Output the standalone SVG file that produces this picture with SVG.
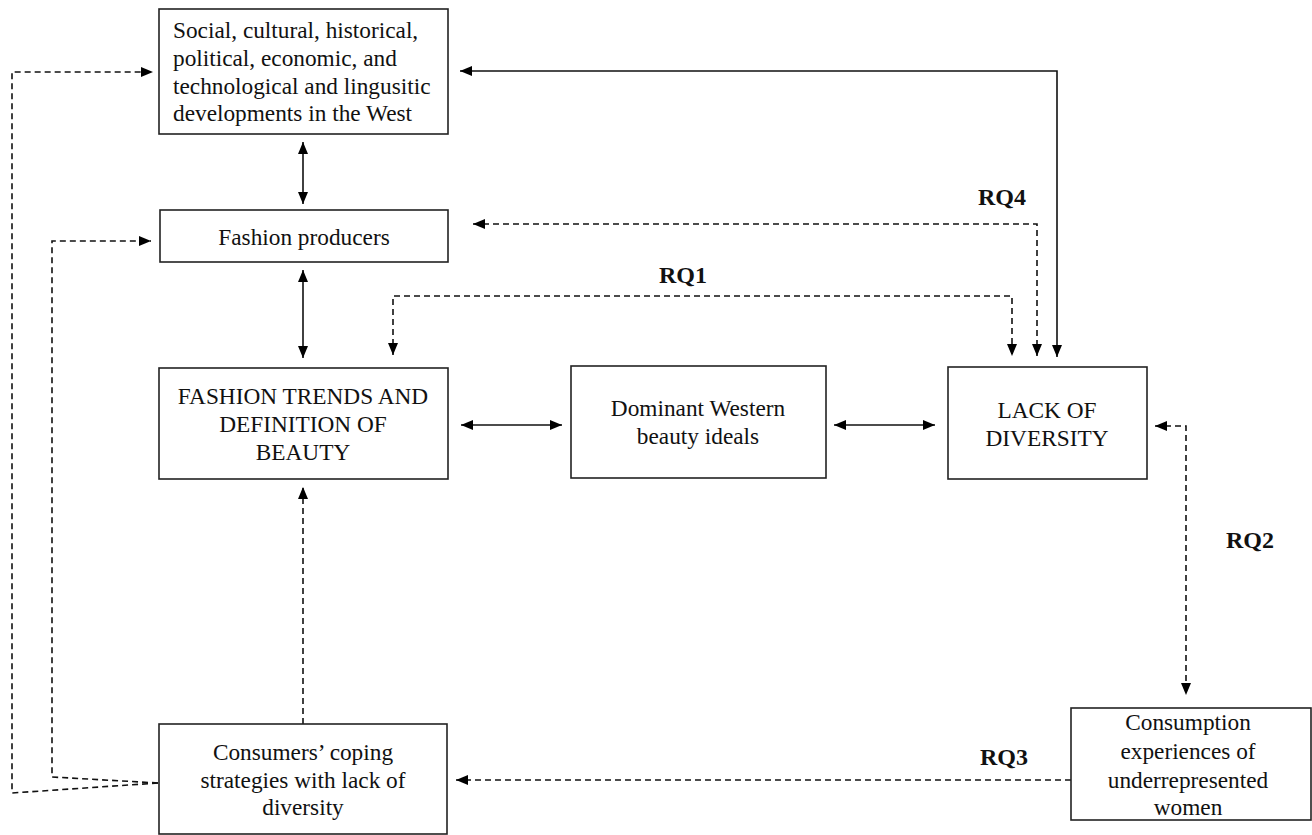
<svg xmlns="http://www.w3.org/2000/svg" width="1312" height="835" viewBox="0 0 1312 835">
<defs>
<marker id="ah" viewBox="0 0 12 10" refX="12" refY="5" markerWidth="12" markerHeight="10" markerUnits="userSpaceOnUse" orient="auto-start-reverse">
<path d="M0,0 L12,5 L0,10 Z" fill="#000"/>
</marker>
<style>
.box{fill:#fff;stroke:#222;stroke-width:1.6}
.t{font-family:"Liberation Serif","Times New Roman",serif;font-size:23.3px;fill:#111}
.c{text-anchor:middle}
.rq{font-family:"Liberation Serif","Times New Roman",serif;font-size:24px;font-weight:bold;fill:#111}
.ln{fill:none;stroke:#111;stroke-width:1.6}
.d{stroke-dasharray:6,4}
</style>
</defs>
<rect width="1312" height="835" fill="#fff"/>
<g id="connectors">
<line class="ln" x1="303" y1="142" x2="303" y2="204" marker-start="url(#ah)" marker-end="url(#ah)"/>
<line class="ln" x1="303" y1="270" x2="303" y2="358" marker-start="url(#ah)" marker-end="url(#ah)"/>
<line class="ln" x1="461" y1="425" x2="562" y2="425" marker-start="url(#ah)" marker-end="url(#ah)"/>
<line class="ln" x1="834" y1="425" x2="935" y2="425" marker-start="url(#ah)" marker-end="url(#ah)"/>
<polyline class="ln" points="460,71 1057,71 1057,357" marker-start="url(#ah)" marker-end="url(#ah)"/>
<polyline class="ln d" points="473,224 1037,224 1037,356" marker-start="url(#ah)" marker-end="url(#ah)"/>
<polyline class="ln d" points="393,355 393,296 1012,296 1012,356" marker-start="url(#ah)" marker-end="url(#ah)"/>
<polyline class="ln d" points="1155,426 1186,426 1186,695" marker-start="url(#ah)" marker-end="url(#ah)"/>
<line class="ln d" x1="1071" y1="780" x2="456" y2="780" marker-end="url(#ah)"/>
<line class="ln d" x1="303" y1="724" x2="303" y2="487" marker-end="url(#ah)"/>
<polyline class="ln d" points="158,783 12,793 12,72 153,72" marker-end="url(#ah)"/>
<polyline class="ln d" points="158,783 52,777 52,241 151,241" marker-end="url(#ah)"/>
<text class="rq" x="659" y="283">RQ1</text>
<text class="rq" x="1226" y="548">RQ2</text>
<text class="rq" x="980" y="765">RQ3</text>
<text class="rq" x="978" y="205">RQ4</text>
</g>
<g id="n1">
<rect class="box" x="159" y="9" width="289" height="125"/>
<text class="t" x="173" y="38">Social, cultural, historical,</text>
<text class="t" x="173" y="66">political, economic, and</text>
<text class="t" x="173" y="94">technological and lingusitic</text>
<text class="t" x="173" y="121">developments in the West</text>
</g>
<g id="n2">
<rect class="box" x="160" y="210" width="288" height="52"/>
<text class="t c" x="304" y="245">Fashion producers</text>
</g>
<g id="n3">
<rect class="box" x="159" y="368" width="289" height="111"/>
<text class="t c" x="303" y="404">FASHION TRENDS AND</text>
<text class="t c" x="303" y="432">DEFINITION OF</text>
<text class="t c" x="303" y="460">BEAUTY</text>
</g>
<g id="n4">
<rect class="box" x="571" y="366" width="255" height="112"/>
<text class="t c" x="698" y="416">Dominant Western</text>
<text class="t c" x="698" y="444">beauty ideals</text>
</g>
<g id="n5">
<rect class="box" x="948" y="367" width="199" height="112"/>
<text class="t c" x="1047" y="418">LACK OF</text>
<text class="t c" x="1047" y="446">DIVERSITY</text>
</g>
<g id="n6">
<rect class="box" x="159" y="724" width="288" height="110"/>
<text class="t c" x="303" y="760">Consumers’ coping</text>
<text class="t c" x="303" y="788">strategies with lack of</text>
<text class="t c" x="303" y="815">diversity</text>
</g>
<g id="n7">
<rect class="box" x="1071" y="708" width="240" height="112"/>
<text class="t c" x="1188" y="730">Consumption</text>
<text class="t c" x="1188" y="759">experiences of</text>
<text class="t c" x="1188" y="788">underrepresented</text>
<text class="t c" x="1188" y="815">women</text>
</g>
</svg>
